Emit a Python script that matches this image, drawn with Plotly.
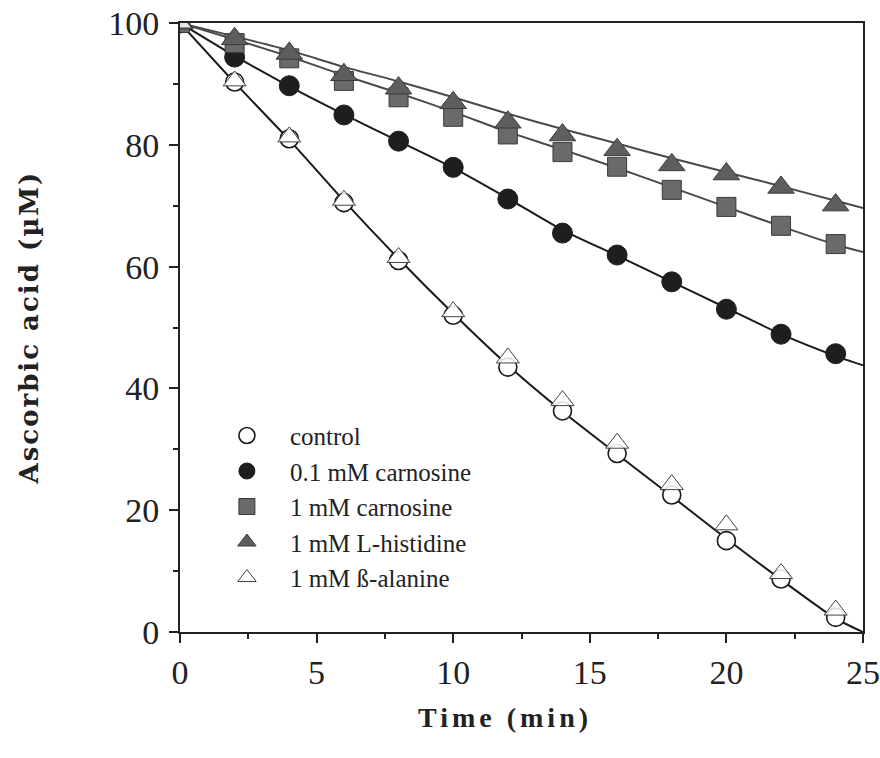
import plotly.graph_objects as go

# ---- data ----
time_min = [0, 2, 4, 6, 8, 10, 12, 14, 16, 18, 20, 22, 24]
control = [100, 90.3, 81.0, 70.5, 61.0, 52.0, 43.5, 36.3, 29.3, 22.5, 15.0, 8.7, 2.4]
carn_01 = [100, 94.4, 89.7, 84.9, 80.6, 76.3, 71.1, 65.5, 61.9, 57.5, 53.0, 48.9, 45.7]
carn_1 = [100, 96.7, 94.2, 90.5, 87.8, 84.6, 81.7, 78.8, 76.4, 72.6, 69.8, 66.7, 63.7]
histidine = [100, 97.4, 95.0, 91.5, 89.3, 86.9, 83.7, 81.6, 79.2, 76.7, 75.2, 73.0, 70.1]
alanine = [100, 90.5, 81.3, 70.9, 61.5, 52.6, 45.0, 38.0, 31.0, 24.2, 17.6, 9.6, 3.6]

# fitted curves (drawn lines) read at the same times plus the end of the axis
fit_time = [0, 2, 4, 6, 8, 10, 12, 14, 16, 18, 20, 22, 24, 25]
control_fit = [100, 90.2, 80.8, 70.8, 61.3, 52.3, 43.8, 36.2, 29.2, 22.3, 15.3, 8.6, 2.2, 0]
carn_01_fit = [100, 94.6, 89.6, 85.0, 80.6, 76.2, 71.2, 66.0, 61.8, 57.5, 53.2, 48.9, 45.3, 43.8]
carn_1_fit = [100, 97.3, 94.5, 91.4, 88.5, 85.4, 82.1, 79.2, 76.2, 73.0, 69.8, 66.6, 63.6, 62.4]
histidine_fit = [100, 97.8, 95.5, 92.8, 90.4, 87.8, 85.1, 82.6, 80.2, 77.8, 75.5, 73.2, 70.8, 69.6]

names = ["control", "0.1 mM carnosine", "1 mM carnosine", "1 mM L-histidine", "1 mM ß-alanine"]

fig = go.Figure()

# fitted lines
for yv, col in [(control_fit, "#1a1a1a"), (carn_01_fit, "#1a1a1a"),
                (carn_1_fit, "#4a4a4a"), (histidine_fit, "#4a4a4a")]:
    fig.add_trace(go.Scatter(x=fit_time, y=yv, mode="lines", showlegend=False,
                             line=dict(color=col, width=2, shape="spline", smoothing=0.6),
                             hoverinfo="skip"))

legend_font = dict(family="Liberation Serif", size=25, color="#222222")

# markers
fig.add_trace(go.Scatter(x=time_min, y=control, mode="markers", name=names[0],
                         marker=dict(symbol="circle", size=18, color="white",
                                     line=dict(color="#1a1a1a", width=1.6))))
fig.add_trace(go.Scatter(x=time_min, y=carn_01, mode="markers", name=names[1],
                         marker=dict(symbol="circle", size=20, color="#1e1e1e",
                                     line=dict(color="#1e1e1e", width=1))))
fig.add_trace(go.Scatter(x=time_min, y=carn_1, mode="markers", name=names[2],
                         marker=dict(symbol="square", size=19, color="#6a6a6a",
                                     line=dict(color="#3a3a3a", width=1))))
fig.add_trace(go.Scatter(x=time_min, y=histidine, mode="markers", name=names[3],
                         marker=dict(symbol="triangle-up", size=23, color="#5e5e5e",
                                     line=dict(color="#3a3a3a", width=1))))
fig.add_trace(go.Scatter(x=time_min, y=alanine, mode="markers", name=names[4],
                         marker=dict(symbol="triangle-up", size=20, color="rgba(255,255,255,0.85)",
                                     line=dict(color="#444444", width=1))))

tick_font = dict(family="Liberation Serif", size=34, color="#222222")

fig.update_xaxes(range=[0, 25], tickmode="array", tickvals=[0, 5, 10, 15, 20, 25],
                 ticks="outside", ticklen=9, tickwidth=2, tickcolor="#222",
                 minor=dict(dtick=2.5, ticks="outside", ticklen=5, tickwidth=2, tickcolor="#222"),
                 showline=True, linecolor="#222", linewidth=2, mirror=True, automargin=False,
                 showgrid=False, zeroline=False, tickfont=tick_font, ticklabelstandoff=0)
fig.update_yaxes(range=[0, 100], tickmode="array", tickvals=[0, 20, 40, 60, 80, 100],
                 ticks="outside", ticklen=9, tickwidth=2, tickcolor="#222",
                 minor=dict(dtick=10, ticks="outside", ticklen=5, tickwidth=2, tickcolor="#222"),
                 showline=True, linecolor="#222", linewidth=2, mirror=True, automargin=False,
                 showgrid=False, zeroline=False, tickfont=tick_font, ticklabelstandoff=3)

fig.update_layout(
    width=880, height=758,
    margin=dict(l=180, r=17, t=23, b=126),
    paper_bgcolor="white", plot_bgcolor="white",
    showlegend=True,
    legend=dict(x=0.035, y=0.36, xanchor="left", yanchor="top",
                bgcolor="rgba(0,0,0,0)", font=legend_font, itemsizing="trace",
                itemwidth=76, tracegroupgap=0),
    annotations=[
        dict(text='<span style="letter-spacing:4px"><b>Time (min)</b></span>',
             xref="paper", yref="paper", x=(505 - 180) / 683, y=(632 - 717) / 609,
             xanchor="center", yanchor="middle", showarrow=False,
             font=dict(family="Liberation Serif", size=28, color="#222222")),
        dict(text='<span style="letter-spacing:2px"><b>Ascorbic acid (µM)</b></span>',
             xref="paper", yref="paper", x=(28 - 180) / 683, y=0.5,
             xanchor="center", yanchor="middle", showarrow=False, textangle=-90,
             font=dict(family="DejaVu Serif", size=26, color="#222222")),
    ],
)

fig.write_html("out.html")
